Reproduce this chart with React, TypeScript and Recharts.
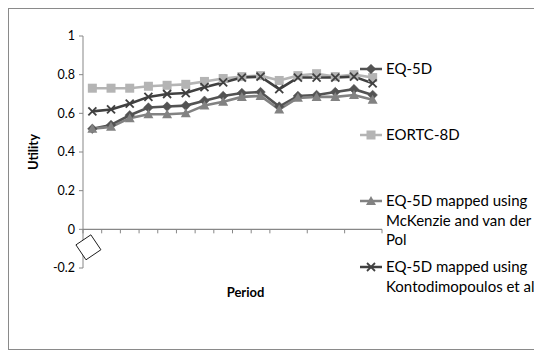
import React from 'react';
import { ComposedChart, Line, Scatter, XAxis, YAxis, Legend, ReferenceLine, Label } from 'recharts';

const periods = ['1','2','3','4','5','6','7','8','9','10','11','12','13','14','15','16'];
const eq5d = [0.52, 0.54, 0.59, 0.63, 0.635, 0.64, 0.665, 0.69, 0.705, 0.71, 0.635, 0.69, 0.695, 0.71, 0.725, 0.695];
const eortc = [0.73, 0.73, 0.73, 0.74, 0.745, 0.75, 0.765, 0.78, 0.79, 0.795, 0.77, 0.795, 0.805, 0.79, 0.80, 0.785];
const mckenzie = [0.52, 0.53, 0.575, 0.595, 0.595, 0.60, 0.64, 0.66, 0.685, 0.69, 0.62, 0.68, 0.685, 0.685, 0.695, 0.67];
const kontodimopoulos = [0.61, 0.62, 0.65, 0.685, 0.70, 0.705, 0.735, 0.76, 0.785, 0.79, 0.725, 0.785, 0.785, 0.785, 0.79, 0.755];
const yTicks = [-0.2, 0, 0.2, 0.4, 0.6, 0.8, 1];
const seriesNames = ['EQ-5D', 'EORTC-8D', 'EQ-5D mapped using McKenzie and van der Pol', 'EQ-5D mapped using Kontodimopoulos et al'];
const boxX = [0.29];
const boxY = [-0.093];

const COLORS = ['#535353', '#b4b4b4', '#828282', '#404040'];
const AXIS = '#878787';
const FONT = 'Lato, "Noto Sans", sans-serif';

const data = periods.map((p, i) => ({
  x: i + 0.5,
  period: p,
  eq5d: eq5d[i],
  eortc: eortc[i],
  mckenzie: mckenzie[i],
  kontodimopoulos: kontodimopoulos[i],
}));
const boxData = boxX.map((x, i) => ({ x, y: boxY[i] }));

const CHART_W = 526;
const CHART_H = 340;
const LEGEND_W = 153;
const MARGIN = { top: 27, right: 0, left: 0, bottom: 0 };
const YAXIS_W = 74;
const XAXIS_H = 81;
const Y_MIN = -0.2;
const Y_MAX = 1;
const PLOT_H = CHART_H - MARGIN.top - MARGIN.bottom - XAXIS_H;
const ZERO_SHIFT = PLOT_H * (0 - Y_MIN) / (Y_MAX - Y_MIN);

type Shape = 'diamond' | 'square' | 'triangle' | 'x';

function Marker({ shape, cx, cy, color }: { shape: Shape; cx: number; cy: number; color: string }) {
  if (cx == null || cy == null || isNaN(cx) || isNaN(cy)) return null;
  if (shape === 'diamond') {
    const r = 4.8;
    return <polygon points={`${cx},${cy - r} ${cx + r},${cy} ${cx},${cy + r} ${cx - r},${cy}`} fill={color} stroke={color} strokeWidth={0.5} />;
  }
  if (shape === 'square') {
    const s = 4.5;
    return <rect x={cx - s} y={cy - s} width={2 * s} height={2 * s} fill={color} />;
  }
  if (shape === 'triangle') {
    const r = 5;
    return <polygon points={`${cx},${cy - r} ${cx + r},${cy + r * 0.8} ${cx - r},${cy + r * 0.8}`} fill={color} />;
  }
  const r = 4;
  return (
    <g stroke={color} strokeWidth={1.8}>
      <line x1={cx - r} y1={cy - r} x2={cx + r} y2={cy + r} />
      <line x1={cx - r} y1={cy + r} x2={cx + r} y2={cy - r} />
    </g>
  );
}

const makeDot = (shape: Shape, color: string) => (props: any) => (
  <Marker key={`${shape}-${props.index}`} shape={shape} cx={props.cx} cy={props.cy} color={color} />
);

const shapes: Shape[] = ['diamond', 'square', 'triangle', 'x'];

const BoxShape = (props: any) => {
  const { cx, cy } = props;
  const s = 9;
  return (
    <rect x={cx - s} y={cy - s} width={2 * s} height={2 * s} fill="#fff" stroke="#000" strokeWidth={0.8}
      transform={`rotate(-34 ${cx} ${cy})`} />
  );
};

const XTick = (props: any) => {
  const { x, y } = props;
  const yy = y - 8 - ZERO_SHIFT;
  return <line x1={x} y1={yy} x2={x} y2={yy + 4} stroke={AXIS} strokeWidth={1} />;
};

const renderLegend = () => (
  <div style={{ fontFamily: FONT, fontSize: 15, color: '#000', lineHeight: '19.5px', width: 178 }}>
    {seriesNames.map((name, i) => (
      <div key={name} style={{ height: 66, display: 'flex', alignItems: 'flex-start' }}>
        <svg width={26} height={20} style={{ flex: 'none' }}>
          <line x1={0} y1={10} x2={22} y2={10} stroke={COLORS[i]} strokeWidth={2.5} />
          <Marker shape={shapes[i]} cx={11} cy={10} color={COLORS[i]} />
        </svg>
        <div style={{ width: 152, flex: 'none' }}>{name}</div>
      </div>
    ))}
  </div>
);

export default function App() {
  return (
    <div style={{ width: CHART_W + 2, height: CHART_H + 2, border: '1px solid #8a8a8a', boxSizing: 'border-box', background: '#fff', position: 'relative' }}>
      <ComposedChart width={CHART_W} height={CHART_H} data={data} margin={MARGIN} style={{ fontFamily: FONT }}>
        <XAxis type="number" dataKey="x" domain={[0, periods.length]} ticks={periods.map((_, i) => i).concat([periods.length])}
          height={XAXIS_H} axisLine={false} tickLine={false} tick={<XTick />}>
          <Label value="Period" position="insideTop" offset={20} dx={13} style={{ fontWeight: 700, fontSize: 13, fill: '#000', fontFamily: FONT }} />
        </XAxis>
        <YAxis type="number" domain={[Y_MIN, Y_MAX]} ticks={yTicks} width={YAXIS_W} stroke={AXIS}
          tickSize={4} tickMargin={4} tick={{ fill: '#000', fontSize: 12.5, fontFamily: FONT }}
          tickFormatter={(v: number) => String(v)}>
          <Label content={(p: any) => {
            const vb = p.viewBox || {};
            const cx = vb.x + 24;
            const cy = vb.y + vb.height / 2;
            return <text x={cx} y={cy} transform={`rotate(-90 ${cx} ${cy})`} textAnchor="middle" dominantBaseline="central"
              style={{ fontWeight: 700, fontSize: 13, fill: '#000', fontFamily: FONT }}>Utility</text>;
          }} />
        </YAxis>
        <ReferenceLine y={0} stroke={AXIS} strokeWidth={1.2} />
        <Line dataKey="eq5d" name={seriesNames[0]} stroke={COLORS[0]} strokeWidth={2.6} dot={makeDot('diamond', COLORS[0])} isAnimationActive={false} />
        <Line dataKey="eortc" name={seriesNames[1]} stroke={COLORS[1]} strokeWidth={2.6} dot={makeDot('square', COLORS[1])} isAnimationActive={false} />
        <Line dataKey="mckenzie" name={seriesNames[2]} stroke={COLORS[2]} strokeWidth={2.6} dot={makeDot('triangle', COLORS[2])} isAnimationActive={false} />
        <Line dataKey="kontodimopoulos" name={seriesNames[3]} stroke={COLORS[3]} strokeWidth={2.6} dot={makeDot('x', COLORS[3])} isAnimationActive={false} />
        <Scatter data={boxData} dataKey="y" shape={<BoxShape />} isAnimationActive={false} legendType="none" />
        <Legend content={renderLegend} layout="vertical" verticalAlign="top" align="right"
          wrapperStyle={{ position: 'absolute', left: 351, top: 50, width: LEGEND_W, overflow: 'visible' }} />
      </ComposedChart>
    </div>
  );
}
